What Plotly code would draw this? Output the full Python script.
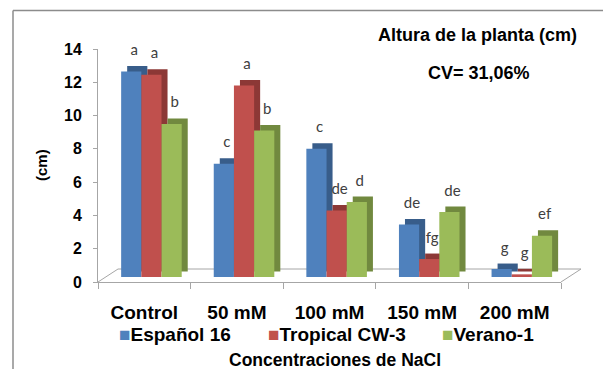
import plotly.graph_objects as go

# Plant height (cm) by NaCl concentration for three cultivars
categories = ["Control", "50 mM", "100 mM", "150 mM", "200 mM"]
series_names = ["Español 16", "Tropical CW-3", "Verano-1"]
espanol_16 = [12.35, 6.8, 7.7, 3.15, 0.48]
tropical_cw3 = [12.15, 11.5, 4.0, 1.08, 0.16]
verano_1 = [9.2, 8.8, 4.5, 3.9, 2.48]
espanol_letters = ["a", "c", "c", "de", "g"]
tropical_letters = ["a", "a", "de", "fg", "g"]
verano_letters = ["b", "b", "d", "de", "ef"]
y_ticks = [0, 2, 4, 6, 8, 10, 12, 14]

series_values = [espanol_16, tropical_cw3, verano_1]
series_letters = [espanol_letters, tropical_letters, verano_letters]
front_colors = ["#4F81BD", "#C0504D", "#9BBB59"]
side_colors = ["#385D8A", "#8C3836", "#71893F"]

W, H = 603, 369
L, R, T, B = 98, 42, 49, 87
plot_w = W - L - R
plot_h = H - T - B


def px(x):
    return (x - L) / plot_w


def py(y):
    return (H - B - y) / plot_h


bar_w = 0.218
offsets = [-0.25, -0.032, 0.186]
depth_x = 0.065
floor_lift = 0.3
depth_y = 0.33
letter_gap = 0.3

fig = go.Figure()
for vals, letters, off, fc, sc, name in zip(series_values, series_letters, offsets,
                                            front_colors, side_colors, series_names):
    # significance letters, set just above the top face
    fig.add_trace(go.Bar(
        x=categories, y=vals, base=floor_lift + depth_y + letter_gap,
        offset=off + depth_x / 2, width=bar_w,
        marker=dict(color="rgba(0,0,0,0)", line=dict(width=0)),
        text=letters, textposition="outside", cliponaxis=False,
        textfont=dict(family="Lato, Open Sans", size=15, color="#404040"),
        showlegend=False, hoverinfo="skip",
    ))
    # depth box (side and top faces) behind the front face
    fig.add_trace(go.Bar(
        x=categories, y=vals, base=floor_lift + depth_y,
        offset=off + depth_x, width=bar_w,
        marker=dict(color=sc, line=dict(width=0)),
        showlegend=False, hoverinfo="skip",
    ))
    # front face
    fig.add_trace(go.Bar(
        x=categories, y=vals, base=floor_lift,
        offset=off, width=bar_w, name=name,
        marker=dict(color=fc, line=dict(width=0)),
        showlegend=False,
    ))

shapes = []
gray = "#A6A6A6"
# floor of the 3D plot
dxp, dyp = 20, 13
shapes.append(dict(type="path", xref="paper", yref="paper",
                   path=(f"M {px(L)},{py(H - B)} L {px(L + dxp)},{py(H - B - dyp)} "
                         f"L {px(W - R + dxp)},{py(H - B - dyp)} L {px(W - R)},{py(H - B)}"),
                   line=dict(color=gray, width=1), layer="below"))
# chart frame
frame = "#8C8C8C"
shapes.append(dict(type="line", xref="paper", yref="paper",
                   x0=px(13), y0=py(10.5), x1=px(W), y1=py(10.5),
                   line=dict(color=frame, width=1.5)))
shapes.append(dict(type="line", xref="paper", yref="paper",
                   x0=px(13), y0=py(10.5), x1=px(13), y1=py(H),
                   line=dict(color=frame, width=1.5)))

bold = dict(family="Liberation Sans, Arial", color="#000000", weight="bold")


def label(text, x, y, size, **kw):
    d = dict(text=text, x=px(x), y=py(y), xref="paper", yref="paper",
             xanchor="center", yanchor="middle", showarrow=False,
             font=dict(bold, size=size))
    d.update(kw)
    return d


annotations = [
    label("Altura de la planta (cm)", 477, 35, 18),
    label("CV= 31,06%", 479, 73, 18),
    label("(cm)", 41, 165, 15, textangle=-90),
    label("Concentraciones de NaCl", 335, 360, 17.5),
]
# legend row: coloured square followed by the series name
legend_x = [117, 266, 440]
for name, color, lx in zip(series_names, front_colors, legend_x):
    annotations.append(label(f'<span style="color:{color}">■</span>{name}',
                             lx, 334, 19, xanchor="left"))

fig.update_layout(
    width=W, height=H,
    margin=dict(l=L, r=R, t=T, b=B, pad=0),
    paper_bgcolor="white", plot_bgcolor="rgba(0,0,0,0)",
    barmode="overlay", showlegend=False,
    shapes=shapes, annotations=annotations,
    xaxis=dict(
        type="category", categoryorder="array", categoryarray=categories,
        range=[-0.5, len(categories) - 0.5],
        showline=True, linecolor=gray, linewidth=1,
        ticks="outside", tickson="boundaries", ticklen=6, tickcolor=gray,
        tickfont=dict(bold, size=19), ticklabelstandoff=13,
        showgrid=False, zeroline=False, fixedrange=True,
    ),
    yaxis=dict(
        range=[0, 14], tickvals=y_ticks,
        showline=True, linecolor=gray, linewidth=1,
        ticks="outside", ticklen=4, tickcolor=gray,
        tickfont=dict(bold, size=16), ticklabelstandoff=8,
        showgrid=False, zeroline=False, fixedrange=True,
    ),
)

fig.write_html("out.html")
